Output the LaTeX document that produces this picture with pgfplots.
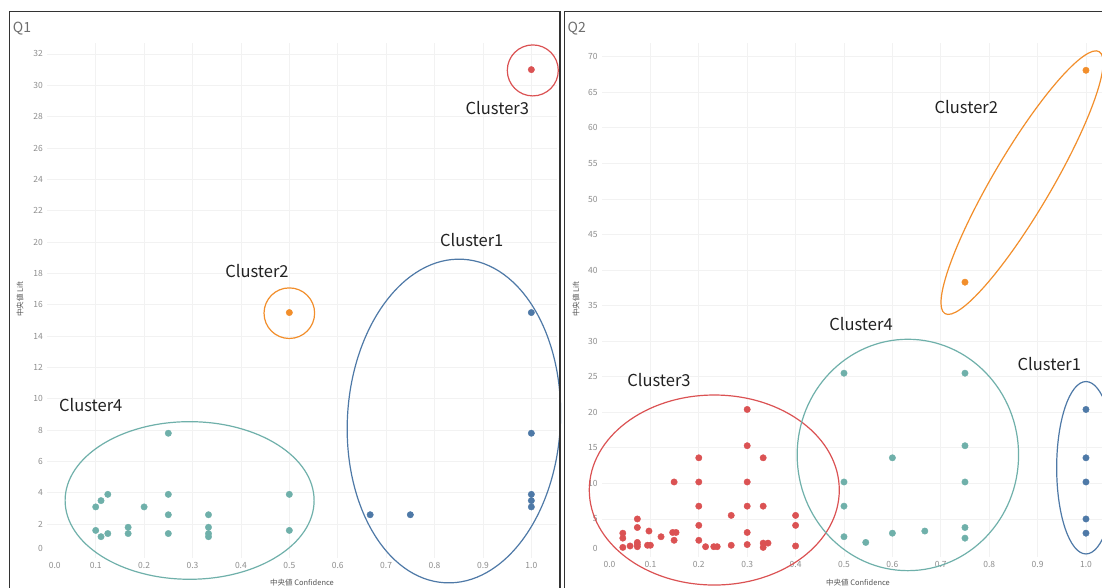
\documentclass[border=0pt]{standalone}
\usepackage{fontspec}
\setmainfont{Noto Sans CJK JP}
\usepackage{pgfplots}
\pgfplotsset{compat=1.18}
\definecolor{cblue}{HTML}{4E79A7}
\definecolor{corange}{HTML}{F28E2B}
\definecolor{cred}{HTML}{DB5253}
\definecolor{cteal}{HTML}{6FB0AA}
\definecolor{gridc}{HTML}{F2F2F2}
\definecolor{tickc}{HTML}{8E8E8E}
\definecolor{labc}{HTML}{555555}
\definecolor{titc}{HTML}{6E6E6E}
\definecolor{txtc}{HTML}{222222}
\pgfplotsset{
  tabstyle/.style={
    scale only axis, anchor=south west,
    axis line style={draw=none}, major tick length=0pt,
    grid=major, grid style={gridc, line width=0.8pt},
    tick label style={font=\fontsize{8.5}{10}\selectfont, text=tickc},
    /pgf/number format/assume math mode=true,
    clip=false,
  },
  dot/.style={only marks, color=#1, mark=*, mark size=3.2pt, mark options={solid, draw=#1, fill=#1, line width=0.4pt}},
}
\begin{document}
\begin{tikzpicture}
\path[use as bounding box, clip] (0,0) rectangle (1102pt,588pt);
\fill[white] (0,0) rectangle (1102pt,588pt);
% ---------------- Q1 ----------------
\begin{axis}[tabstyle, at={(47.3pt,30pt)}, width=509.7pt, height=515pt,
  xmin=0, xmax=1.053, ymin=-0.16, ymax=32.7,
  xtick={0.1,0.2,0.3,0.4,0.5,0.6,0.7,0.8,0.9,1.0},
  extra x ticks={0}, extra x tick style={grid=none, tick label style={xshift=7.5pt}},
  ytick={2,4,6,8,10,12,14,16,18,20,22,24,26,28,30,32},
  extra y ticks={0}, extra y tick style={grid=none, tick label style={yshift=7pt}},
  xticklabel style={/pgf/number format/.cd, fixed, fixed zerofill, precision=1},
  xticklabel shift=1pt, yticklabel shift=1pt]
\addplot[dot=cteal] coordinates {(0.1,3.1) (0.111,3.5) (0.125,3.9) (0.1,1.6) (0.111,1.2) (0.125,1.4)
 (0.167,1.8) (0.167,1.4) (0.2,3.1) (0.25,7.8) (0.25,3.9) (0.25,2.6) (0.25,1.4)
 (0.333,2.6) (0.333,1.8) (0.333,1.4) (0.333,1.2) (0.5,3.9) (0.5,1.6)};
\addplot[dot=corange] coordinates {(0.5,15.5)};
\addplot[dot=cred] coordinates {(1.0,31.0)};
\addplot[dot=cblue] coordinates {(0.667,2.6) (0.75,2.6) (1,15.5) (1,7.8) (1,3.9) (1,3.5) (1,3.1)};
\draw[cteal, line width=1.2pt] (axis cs:0.294,3.51) circle [x radius=124.5pt, y radius=78.8pt];
\draw[corange, line width=1.2pt] (axis cs:0.5,15.46) circle [x radius=25.3pt, y radius=25.3pt];
\draw[cred, line width=1.2pt] (axis cs:1.003,30.95) circle [x radius=25.5pt, y radius=25.5pt];
\draw[cblue, line width=1.2pt] (axis cs:0.840,8.58) circle [x radius=106.5pt, y radius=162pt, rotate=-3.2];
\end{axis}
% ---------------- Q2 ----------------
\begin{axis}[tabstyle, at={(602pt,31pt)}, width=513pt, height=514pt,
  xmin=0, xmax=1.06, ymin=-0.35, ymax=71.94,
  xtick={0.1,0.2,0.3,0.4,0.5,0.6,0.7,0.8,0.9,1.0},
  extra x ticks={0}, extra x tick style={grid=none, tick label style={xshift=7.5pt}},
  ytick={5,10,15,20,25,30,35,40,45,50,55,60,65,70},
  extra y ticks={0}, extra y tick style={grid=none, tick label style={yshift=6pt}},
  xticklabel style={/pgf/number format/.cd, fixed, fixed zerofill, precision=1},
  xticklabel shift=1pt, yticklabel shift=1pt]
\addplot[dot=cred] coordinates {(0.3,20.4) (0.3,15.3) (0.3,10.2) (0.3,6.8) (0.3,3.1) (0.3,1.4)
 (0.2,13.6) (0.2,10.2) (0.2,6.8) (0.2,4.1) (0.2,2.0)
 (0.333,13.6) (0.333,6.8) (0.333,1.6) (0.343,1.6) (0.333,1.0)
 (0.4,5.5) (0.4,4.1) (0.4,1.2) (0.267,5.5) (0.267,1.3)
 (0.214,1.1) (0.231,1.1) (0.238,1.1)
 (0.149,10.2) (0.146,3.1) (0.153,3.1) (0.149,2.0)
 (0.122,2.5) (0.097,3.3) (0.094,1.3) (0.1,1.3)
 (0.073,5.0) (0.073,3.8) (0.073,1.7) (0.073,1.1) (0.073,1.4)
 (0.058,1.2) (0.043,3.0) (0.043,2.3) (0.043,1.0)};
\addplot[dot=cteal] coordinates {(0.5,25.5) (0.75,25.5) (0.75,15.3) (0.75,10.2) (0.75,3.8) (0.75,2.3)
 (0.6,13.6) (0.5,10.2) (0.5,6.8) (0.5,2.5) (0.545,1.7) (0.6,3.0) (0.667,3.3)};
\addplot[dot=cblue] coordinates {(1,20.4) (1,13.6) (1,10.2) (1,5.0) (1,3.0)};
\addplot[dot=corange] coordinates {(0.75,38.3) (1,68.1)};
\draw[cred, line width=1.2pt] (axis cs:0.232,9.07) circle [x radius=125pt, y radius=95pt];
\draw[cteal, line width=1.2pt] (axis cs:0.632,14.0) circle [x radius=110.7pt, y radius=115.7pt];
\draw[cblue, line width=1.2pt] (axis cs:1.0,12.2) circle [x radius=29.3pt, y radius=86.2pt];
\draw[corange, line width=1.2pt] (axis cs:0.868,52.3) circle [x radius=152pt, y radius=29pt, rotate=59.5];
\end{axis}
% ---------------- panels, titles, labels ----------------
\draw[line width=1.4pt, black!80] (9.5pt,-5pt) rectangle (560pt,576.3pt);
\draw[line width=1.4pt, black!80] (564.5pt,-5pt) rectangle (1120pt,576.3pt);
\node[anchor=base west, inner sep=0, text=titc, font=\fontsize{14}{16}\selectfont] at (12.7pt,555.3pt) {Q1};
\node[anchor=base west, inner sep=0, text=titc, font=\fontsize{14}{16}\selectfont] at (567.5pt,555.3pt) {Q2};
\node[rotate=90, text=labc, font=\fontsize{7.5}{9}\selectfont, inner sep=0] at (20pt,289pt) {中央値 Lift};
\node[rotate=90, text=labc, font=\fontsize{7.5}{9}\selectfont, inner sep=0] at (576pt,289pt) {中央値 Lift};
\node[text=labc, font=\fontsize{7.5}{9}\selectfont, inner sep=0] at (302pt,5pt) {中央値 Confidence};
\node[text=labc, font=\fontsize{7.5}{9}\selectfont, inner sep=0] at (858pt,5pt) {中央値 Confidence};
\tikzset{cl/.style={text=txtc, font=\fontsize{16.5}{18}\selectfont, inner sep=0}}
\node[cl] at (497.3pt,479.7pt) {Cluster3};
\node[cl] at (471.7pt,348pt) {Cluster1};
\node[cl] at (257pt,317.2pt) {Cluster2};
\node[cl] at (90.7pt,182.7pt) {Cluster4};
\node[cl] at (966.3pt,480.5pt) {Cluster2};
\node[cl] at (861pt,264pt) {Cluster4};
\node[cl] at (659pt,208pt) {Cluster3};
\node[cl] at (1049.3pt,224pt) {Cluster1};
\end{tikzpicture}
\end{document}
